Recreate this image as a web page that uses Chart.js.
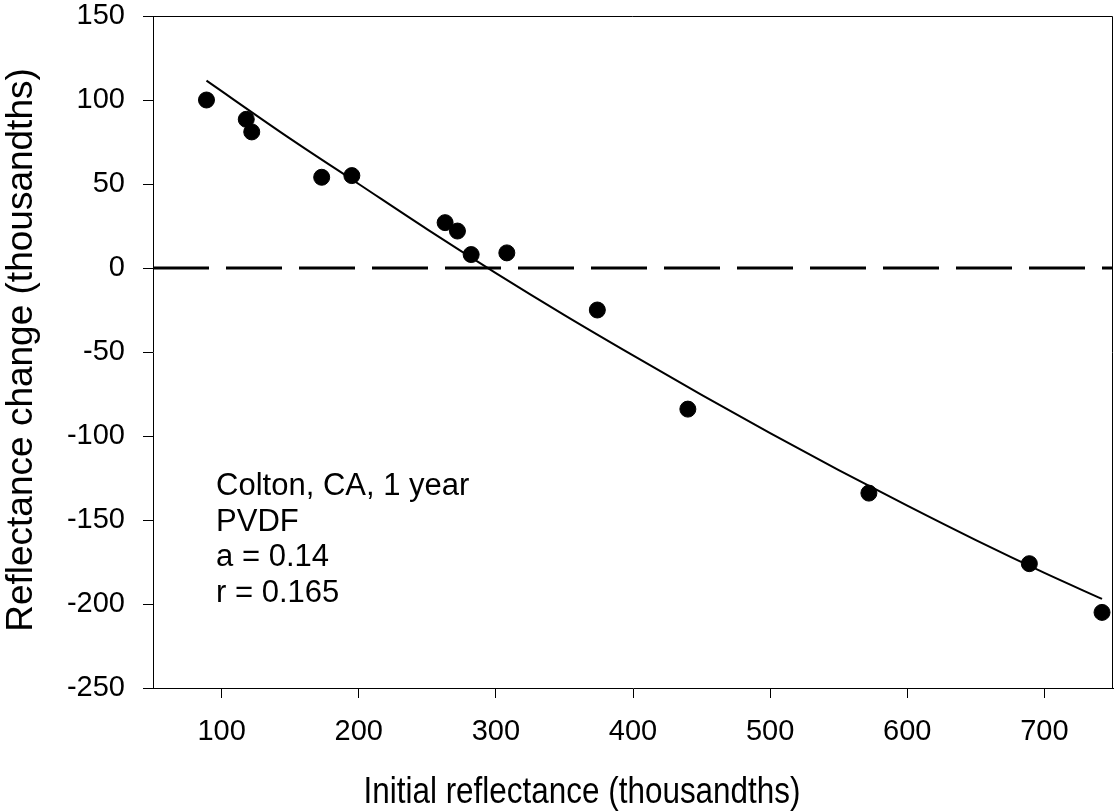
<!DOCTYPE html>
<html>
<head>
<meta charset="utf-8">
<title>Reflectance change vs initial reflectance</title>
<script src="https://cdn.jsdelivr.net/npm/chart.js@4/dist/chart.umd.min.js"></script>
<style>
  body { margin: 0; background: #fff; }
  #chart { display: block; }
</style>
</head>
<body>
<canvas id="chart" width="1114" height="812"></canvas>
<script>
// measured points
const initialReflectance = [89, 118, 122, 173, 195, 263, 272, 282, 308, 374, 440, 572, 689, 742];
const reflectanceChange = [100, 88.5, 81, 54, 55, 27, 22, 8, 9, -25, -84, -134, -176, -205];

// fitted curve
const fitX = [89, 150, 200, 250, 300, 350, 400, 450, 500, 550, 600, 650, 700, 742];
const fitY = [111.5, 77, 50, 23, -3, -28, -52, -75.5, -98.3, -120.3, -141.5, -162, -181.5, -197];

// zero reference line
const zeroX = [50, 750];
const zeroY = [0, 0];

const xTicks = [100, 200, 300, 400, 500, 600, 700];
const yTicks = [150, 100, 50, 0, -50, -100, -150, -200, -250];

const noteLines = ['Colton, CA, 1 year', 'PVDF', 'a = 0.14', 'r = 0.165'];
const xTitle = 'Initial reflectance (thousandths)';
const yTitle = 'Reflectance change (thousandths)';

const FONT = '"Liberation Sans", Arial, sans-serif';

const toPoints = (xs, ys) => xs.map((x, i) => ({ x: x, y: ys[i] }));

const chartData = {
  datasets: [
    {
      type: 'scatter',
      data: toPoints(initialReflectance, reflectanceChange),
      backgroundColor: '#000',
      borderColor: '#000',
      pointRadius: 8,
      order: 0,
    },
    {
      type: 'line',
      data: toPoints(fitX, fitY),
      borderColor: '#000',
      borderWidth: 2,
      pointRadius: 0,
      cubicInterpolationMode: 'monotone',
      order: 1,
    },
    {
      type: 'line',
      data: toPoints(zeroX, zeroY),
      borderColor: '#000',
      borderWidth: 3,
      borderDash: [56, 17],
      pointRadius: 0,
      order: 2,
    },
  ],
};

// box on top/right, axis titles and the note
const extrasPlugin = {
  id: 'extras',
  afterDraw(chart) {
    const { ctx, chartArea, scales } = chart;
    ctx.save();
    ctx.strokeStyle = '#000';
    ctx.lineWidth = 1;
    ctx.beginPath();
    ctx.moveTo(chartArea.left, chartArea.top + 0.5);
    ctx.lineTo(chartArea.right - 0.5, chartArea.top + 0.5);
    ctx.lineTo(chartArea.right - 0.5, chartArea.bottom);
    ctx.stroke();

    ctx.fillStyle = '#000';
    ctx.textBaseline = 'alphabetic';
    ctx.textAlign = 'left';
    ctx.font = '31px ' + FONT;
    const nx = scales.x.getPixelForValue(96);
    const ny = scales.y.getPixelForValue(-135.3);
    noteLines.forEach((line, i) => ctx.fillText(line, nx, ny + i * 35.5));

    // x title is set in a narrow face in the original
    ctx.save();
    ctx.textAlign = 'center';
    ctx.font = '37px ' + FONT;
    ctx.translate(582, 803);
    ctx.scale(0.85, 1);
    ctx.fillText(xTitle, 0, 0);
    ctx.restore();

    ctx.textAlign = 'center';
    ctx.font = '37px ' + FONT;
    ctx.translate(32, 350);
    ctx.rotate(-Math.PI / 2);
    ctx.fillText(yTitle, 0, 0);
    ctx.restore();
  },
};

const tickFont = { family: FONT, size: 29, lineHeight: 1.1 };

const chartOptions = {
  responsive: false,
  animation: false,
  layout: { autoPadding: false, padding: { top: 0, right: 1, bottom: 0, left: 0 } },
  plugins: {
    legend: { display: false },
    tooltip: { enabled: false },
  },
  scales: {
    x: {
      type: 'linear',
      min: 50,
      max: 750,
      afterBuildTicks: (scale) => {
        scale.ticks = xTicks.map((v) => ({ value: v }));
      },
      afterFit: (scale) => {
        scale.height = 124;
      },
      grid: { drawOnChartArea: false, drawTicks: true, tickLength: 10, color: '#000' },
      border: { display: true, color: '#000', width: 1 },
      ticks: { color: '#000', font: tickFont, padding: 18, maxRotation: 0 },
    },
    y: {
      type: 'linear',
      min: -250,
      max: 150,
      afterBuildTicks: (scale) => {
        scale.ticks = yTicks.map((v) => ({ value: v }));
      },
      afterFit: (scale) => {
        // fixed plot box: 153px of axis, 16px above the top tick
        scale.width = 153;
        scale.paddingTop = 16;
        scale.paddingBottom = 0;
      },
      grid: { drawOnChartArea: false, drawTicks: true, tickLength: 10, color: '#000' },
      border: { display: true, color: '#000', width: 1 },
      ticks: { color: '#000', font: tickFont, padding: 18 },
    },
  },
};

new Chart(document.getElementById('chart'), {
  type: 'scatter',
  data: chartData,
  options: chartOptions,
  plugins: [extrasPlugin],
});
</script>
</body>
</html>
